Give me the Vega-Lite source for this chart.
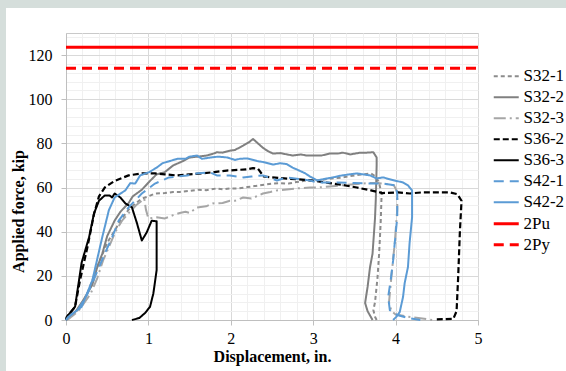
{
  "$schema": "https://vega.github.io/schema/vega-lite/v6.json",
  "padding": 0,
  "background": "white",
  "bounds": "flush",
  "spacing": 0,
  "config": {
    "font": "Liberation Serif",
    "view": {"stroke": null},
    "axis": {"labelFont": "Liberation Serif", "titleFont": "Liberation Serif", "labelColor": "black", "titleColor": "black", "labelFontSize": 16, "titleFontSize": 16, "titleFontWeight": "bold", "domainColor": "#bfbfbf", "tickColor": "#bfbfbf", "labelOverlap": false, "labelFlush": false}
  },
  "vconcat": [
    {"width": 566, "height": 8, "data": {"values": [{}]}, "mark": {"type": "point", "opacity": 0}, "view": {"fill": "#d5dedb", "stroke": null}},
    {
      "bounds": "flush",
      "spacing": 60,
      "hconcat": [
        {"width": 6, "height": 363, "data": {"values": [{}]}, "mark": {"type": "point", "opacity": 0}, "view": {"fill": "#d5dedb", "stroke": null}},
        {
          "bounds": "flush",
          "spacing": 24,
          "vconcat": [
            {"width": 1, "height": 1, "data": {"values": [{}]}, "mark": {"type": "point", "opacity": 0}, "view": {"fill": null, "stroke": null}},
            {
              "width": 412,
              "height": 287,
              "view": {"stroke": "#c9c9c9"},
              "data": {"values": [
                {"series":"S32-1","x":0,"y":0},{"series":"S32-1","x":0.05,"y":1},{"series":"S32-1","x":0.15,"y":5},{"series":"S32-1","x":0.25,"y":11},{"series":"S32-1","x":0.32,"y":18},{"series":"S32-1","x":0.4,"y":26},{"series":"S32-1","x":0.5,"y":35},{"series":"S32-1","x":0.6,"y":41},{"series":"S32-1","x":0.66,"y":45},{"series":"S32-1","x":0.76,"y":50},{"series":"S32-1","x":0.85,"y":53},{"series":"S32-1","x":0.92,"y":55},{"series":"S32-1","x":1,"y":56},{"series":"S32-1","x":1.08,"y":57.3},{"series":"S32-1","x":1.2,"y":57.5},{"series":"S32-1","x":1.3,"y":58},{"series":"S32-1","x":1.38,"y":58},{"series":"S32-1","x":1.5,"y":58.5},{"series":"S32-1","x":1.6,"y":59},{"series":"S32-1","x":1.7,"y":58.8},{"series":"S32-1","x":1.83,"y":59.6},{"series":"S32-1","x":1.9,"y":59.2},{"series":"S32-1","x":2,"y":59.6},{"series":"S32-1","x":2.1,"y":59.6},{"series":"S32-1","x":2.2,"y":60.2},{"series":"S32-1","x":2.35,"y":61},{"series":"S32-1","x":2.5,"y":61.8},{"series":"S32-1","x":2.6,"y":62},{"series":"S32-1","x":2.7,"y":61.8},{"series":"S32-1","x":2.8,"y":62.5},{"series":"S32-1","x":2.92,"y":63.2},{"series":"S32-1","x":3,"y":63},{"series":"S32-1","x":3.1,"y":63.5},{"series":"S32-1","x":3.2,"y":64},{"series":"S32-1","x":3.35,"y":64.5},{"series":"S32-1","x":3.5,"y":65.5},{"series":"S32-1","x":3.62,"y":66},{"series":"S32-1","x":3.7,"y":66.4},{"series":"S32-1","x":3.76,"y":65},{"series":"S32-1","x":3.8,"y":62},{"series":"S32-1","x":3.83,"y":57},{"series":"S32-1","x":3.82,"y":45},{"series":"S32-1","x":3.8,"y":30},{"series":"S32-1","x":3.78,"y":19},{"series":"S32-1","x":3.75,"y":8},{"series":"S32-1","x":3.73,"y":4.5},{"series":"S32-1","x":3.75,"y":1.5},{"series":"S32-1","x":3.77,"y":0},

                {"series":"S32-2","x":0,"y":0},{"series":"S32-2","x":0.03,"y":1.4},{"series":"S32-2","x":0.12,"y":4},{"series":"S32-2","x":0.21,"y":9},{"series":"S32-2","x":0.32,"y":16},{"series":"S32-2","x":0.38,"y":24},{"series":"S32-2","x":0.44,"y":30},{"series":"S32-2","x":0.5,"y":38},{"series":"S32-2","x":0.59,"y":45},{"series":"S32-2","x":0.66,"y":49},{"series":"S32-2","x":0.76,"y":53},{"series":"S32-2","x":0.81,"y":56},{"series":"S32-2","x":0.92,"y":59},{"series":"S32-2","x":1.02,"y":63},{"series":"S32-2","x":1.1,"y":66},{"series":"S32-2","x":1.2,"y":67},{"series":"S32-2","x":1.3,"y":70},{"series":"S32-2","x":1.42,"y":72},{"series":"S32-2","x":1.5,"y":73.6},{"series":"S32-2","x":1.6,"y":74},{"series":"S32-2","x":1.71,"y":74.5},{"series":"S32-2","x":1.8,"y":75.5},{"series":"S32-2","x":1.83,"y":76},{"series":"S32-2","x":1.9,"y":75.8},{"series":"S32-2","x":1.99,"y":76.7},{"series":"S32-2","x":2.05,"y":77},{"series":"S32-2","x":2.1,"y":78},{"series":"S32-2","x":2.15,"y":79},{"series":"S32-2","x":2.22,"y":80.5},{"series":"S32-2","x":2.27,"y":82},{"series":"S32-2","x":2.33,"y":80},{"series":"S32-2","x":2.39,"y":78},{"series":"S32-2","x":2.45,"y":76.5},{"series":"S32-2","x":2.51,"y":75.4},{"series":"S32-2","x":2.6,"y":75.6},{"series":"S32-2","x":2.75,"y":74.5},{"series":"S32-2","x":2.85,"y":75},{"series":"S32-2","x":2.92,"y":74.5},{"series":"S32-2","x":3,"y":74.5},{"series":"S32-2","x":3.1,"y":74.5},{"series":"S32-2","x":3.2,"y":75.4},{"series":"S32-2","x":3.3,"y":75.4},{"series":"S32-2","x":3.36,"y":75.8},{"series":"S32-2","x":3.45,"y":75},{"series":"S32-2","x":3.57,"y":75.8},{"series":"S32-2","x":3.65,"y":75.8},{"series":"S32-2","x":3.73,"y":76},{"series":"S32-2","x":3.77,"y":73.6},{"series":"S32-2","x":3.77,"y":70},{"series":"S32-2","x":3.76,"y":55},{"series":"S32-2","x":3.75,"y":46},{"series":"S32-2","x":3.72,"y":30},{"series":"S32-2","x":3.69,"y":24},{"series":"S32-2","x":3.66,"y":15},{"series":"S32-2","x":3.63,"y":7.7},{"series":"S32-2","x":3.66,"y":4},{"series":"S32-2","x":3.69,"y":2},{"series":"S32-2","x":3.72,"y":0},

                {"series":"S32-3","x":0,"y":0},{"series":"S32-3","x":0.05,"y":1},{"series":"S32-3","x":0.15,"y":4},{"series":"S32-3","x":0.3,"y":12},{"series":"S32-3","x":0.38,"y":19},{"series":"S32-3","x":0.45,"y":27},{"series":"S32-3","x":0.52,"y":33},{"series":"S32-3","x":0.6,"y":40},{"series":"S32-3","x":0.68,"y":45},{"series":"S32-3","x":0.75,"y":48},{"series":"S32-3","x":0.85,"y":52},{"series":"S32-3","x":0.92,"y":54},{"series":"S32-3","x":0.95,"y":55},{"series":"S32-3","x":0.97,"y":50},{"series":"S32-3","x":1,"y":46},{"series":"S32-3","x":1.1,"y":46.5},{"series":"S32-3","x":1.2,"y":46},{"series":"S32-3","x":1.3,"y":47.5},{"series":"S32-3","x":1.38,"y":48.5},{"series":"S32-3","x":1.45,"y":49},{"series":"S32-3","x":1.5,"y":48.5},{"series":"S32-3","x":1.59,"y":51},{"series":"S32-3","x":1.7,"y":51.5},{"series":"S32-3","x":1.78,"y":52.8},{"series":"S32-3","x":1.9,"y":53},{"series":"S32-3","x":1.99,"y":54},{"series":"S32-3","x":2.05,"y":54},{"series":"S32-3","x":2.15,"y":55.5},{"series":"S32-3","x":2.25,"y":55},{"series":"S32-3","x":2.39,"y":57.3},{"series":"S32-3","x":2.48,"y":58},{"series":"S32-3","x":2.56,"y":58.7},{"series":"S32-3","x":2.65,"y":59},{"series":"S32-3","x":2.8,"y":59.6},{"series":"S32-3","x":2.96,"y":60},{"series":"S32-3","x":3.05,"y":60},{"series":"S32-3","x":3.2,"y":60.5},{"series":"S32-3","x":3.35,"y":61},{"series":"S32-3","x":3.5,"y":61.5},{"series":"S32-3","x":3.65,"y":62},{"series":"S32-3","x":3.8,"y":62},{"series":"S32-3","x":3.9,"y":61.5},{"series":"S32-3","x":3.98,"y":61},{"series":"S32-3","x":4.02,"y":58},{"series":"S32-3","x":4.02,"y":50},{"series":"S32-3","x":3.99,"y":35},{"series":"S32-3","x":3.95,"y":20},{"series":"S32-3","x":3.92,"y":8},{"series":"S32-3","x":3.95,"y":4},{"series":"S32-3","x":4,"y":2.5},{"series":"S32-3","x":4.15,"y":1.5},{"series":"S32-3","x":4.3,"y":0.8},{"series":"S32-3","x":4.45,"y":0},

                {"series":"S36-2","x":0,"y":0},{"series":"S36-2","x":0.01,"y":1.4},{"series":"S36-2","x":0.11,"y":6},{"series":"S36-2","x":0.17,"y":18},{"series":"S36-2","x":0.26,"y":33},{"series":"S36-2","x":0.34,"y":48},{"series":"S36-2","x":0.4,"y":56},{"series":"S36-2","x":0.47,"y":60},{"series":"S36-2","x":0.59,"y":63},{"series":"S36-2","x":0.76,"y":65.5},{"series":"S36-2","x":0.92,"y":66.4},{"series":"S36-2","x":1.08,"y":66.4},{"series":"S36-2","x":1.2,"y":66},{"series":"S36-2","x":1.34,"y":65.5},{"series":"S36-2","x":1.5,"y":66},{"series":"S36-2","x":1.66,"y":66.4},{"series":"S36-2","x":1.8,"y":67},{"series":"S36-2","x":1.95,"y":67.7},{"series":"S36-2","x":2.1,"y":68},{"series":"S36-2","x":2.2,"y":68.3},{"series":"S36-2","x":2.27,"y":68.8},{"series":"S36-2","x":2.33,"y":68.5},{"series":"S36-2","x":2.4,"y":65},{"series":"S36-2","x":2.5,"y":64.6},{"series":"S36-2","x":2.7,"y":64},{"series":"S36-2","x":3,"y":63.2},{"series":"S36-2","x":3.2,"y":62},{"series":"S36-2","x":3.35,"y":61.2},{"series":"S36-2","x":3.53,"y":60},{"series":"S36-2","x":3.7,"y":58.7},{"series":"S36-2","x":3.84,"y":57.5},{"series":"S36-2","x":4.03,"y":57.8},{"series":"S36-2","x":4.17,"y":57.3},{"series":"S36-2","x":4.32,"y":57.8},{"series":"S36-2","x":4.5,"y":57.8},{"series":"S36-2","x":4.66,"y":57.8},{"series":"S36-2","x":4.75,"y":57},{"series":"S36-2","x":4.8,"y":54},{"series":"S36-2","x":4.78,"y":40},{"series":"S36-2","x":4.76,"y":20},{"series":"S36-2","x":4.74,"y":4},{"series":"S36-2","x":4.7,"y":0.5},{"series":"S36-2","x":4.5,"y":0.3},

                {"series":"S36-3","x":0,"y":0},{"series":"S36-3","x":0.01,"y":1.4},{"series":"S36-3","x":0.11,"y":6},{"series":"S36-3","x":0.19,"y":26},{"series":"S36-3","x":0.28,"y":37.5},{"series":"S36-3","x":0.34,"y":48.3},{"series":"S36-3","x":0.4,"y":54},{"series":"S36-3","x":0.47,"y":56.4},{"series":"S36-3","x":0.53,"y":56.4},{"series":"S36-3","x":0.56,"y":55.5},{"series":"S36-3","x":0.59,"y":57.3},{"series":"S36-3","x":0.62,"y":56.5},{"series":"S36-3","x":0.66,"y":55.5},{"series":"S36-3","x":0.72,"y":52.8},{"series":"S36-3","x":0.8,"y":51},{"series":"S36-3","x":0.86,"y":44},{"series":"S36-3","x":0.92,"y":36},{"series":"S36-3","x":0.98,"y":39.7},{"series":"S36-3","x":1.04,"y":45},{"series":"S36-3","x":1.1,"y":44.7},{"series":"S36-3","x":1.1,"y":22.6},{"series":"S36-3","x":1.06,"y":12},{"series":"S36-3","x":1.02,"y":6},{"series":"S36-3","x":0.96,"y":3.2},{"series":"S36-3","x":0.89,"y":0.9},{"series":"S36-3","x":0.8,"y":0},

                {"series":"S42-1","x":0,"y":0},{"series":"S42-1","x":0.03,"y":1.4},{"series":"S42-1","x":0.15,"y":5},{"series":"S42-1","x":0.25,"y":11},{"series":"S42-1","x":0.35,"y":19.4},{"series":"S42-1","x":0.47,"y":30},{"series":"S42-1","x":0.56,"y":37.5},{"series":"S42-1","x":0.64,"y":45},{"series":"S42-1","x":0.76,"y":51},{"series":"S42-1","x":0.92,"y":57.3},{"series":"S42-1","x":1.08,"y":61.8},{"series":"S42-1","x":1.25,"y":64.6},{"series":"S42-1","x":1.47,"y":65.5},{"series":"S42-1","x":1.6,"y":66.5},{"series":"S42-1","x":1.75,"y":66.8},{"series":"S42-1","x":1.83,"y":65.5},{"series":"S42-1","x":1.99,"y":65.5},{"series":"S42-1","x":2.15,"y":64.6},{"series":"S42-1","x":2.25,"y":65},{"series":"S42-1","x":2.39,"y":65.5},{"series":"S42-1","x":2.56,"y":63.2},{"series":"S42-1","x":2.68,"y":64.6},{"series":"S42-1","x":2.8,"y":64},{"series":"S42-1","x":2.96,"y":63.2},{"series":"S42-1","x":3.05,"y":62.3},{"series":"S42-1","x":3.3,"y":62.3},{"series":"S42-1","x":3.5,"y":62},{"series":"S42-1","x":3.73,"y":61.8},{"series":"S42-1","x":3.85,"y":61.8},{"series":"S42-1","x":4,"y":61},{"series":"S42-1","x":4.02,"y":57},{"series":"S42-1","x":4.02,"y":46.5},{"series":"S42-1","x":3.99,"y":35},{"series":"S42-1","x":3.97,"y":27},{"series":"S42-1","x":3.94,"y":18},{"series":"S42-1","x":3.91,"y":10.4},{"series":"S42-1","x":3.93,"y":4.5},{"series":"S42-1","x":4.02,"y":2.3},{"series":"S42-1","x":4.15,"y":0.9},{"series":"S42-1","x":4.3,"y":0},

                {"series":"S42-2","x":0,"y":0},{"series":"S42-2","x":0.03,"y":1.4},{"series":"S42-2","x":0.19,"y":6},{"series":"S42-2","x":0.32,"y":18},{"series":"S42-2","x":0.44,"y":37.5},{"series":"S42-2","x":0.52,"y":49.7},{"series":"S42-2","x":0.59,"y":55.5},{"series":"S42-2","x":0.65,"y":57},{"series":"S42-2","x":0.72,"y":58.7},{"series":"S42-2","x":0.78,"y":62},{"series":"S42-2","x":0.84,"y":61.8},{"series":"S42-2","x":0.9,"y":65.5},{"series":"S42-2","x":1.01,"y":67},{"series":"S42-2","x":1.1,"y":69},{"series":"S42-2","x":1.17,"y":71},{"series":"S42-2","x":1.26,"y":72},{"series":"S42-2","x":1.35,"y":73},{"series":"S42-2","x":1.45,"y":73},{"series":"S42-2","x":1.5,"y":74},{"series":"S42-2","x":1.59,"y":74.5},{"series":"S42-2","x":1.65,"y":73},{"series":"S42-2","x":1.75,"y":73.6},{"series":"S42-2","x":1.85,"y":74},{"series":"S42-2","x":1.96,"y":73.6},{"series":"S42-2","x":2.05,"y":72.5},{"series":"S42-2","x":2.11,"y":73},{"series":"S42-2","x":2.2,"y":73.2},{"series":"S42-2","x":2.32,"y":72},{"series":"S42-2","x":2.4,"y":71.5},{"series":"S42-2","x":2.51,"y":70.4},{"series":"S42-2","x":2.6,"y":71},{"series":"S42-2","x":2.68,"y":70.6},{"series":"S42-2","x":2.75,"y":69},{"series":"S42-2","x":2.8,"y":68.2},{"series":"S42-2","x":2.9,"y":66.5},{"series":"S42-2","x":2.96,"y":65},{"series":"S42-2","x":3.05,"y":63.2},{"series":"S42-2","x":3.15,"y":64},{"series":"S42-2","x":3.24,"y":64.6},{"series":"S42-2","x":3.35,"y":65.5},{"series":"S42-2","x":3.45,"y":66},{"series":"S42-2","x":3.53,"y":66.4},{"series":"S42-2","x":3.6,"y":66},{"series":"S42-2","x":3.69,"y":65.5},{"series":"S42-2","x":3.77,"y":64.1},{"series":"S42-2","x":3.85,"y":64.6},{"series":"S42-2","x":3.95,"y":63.5},{"series":"S42-2","x":4.09,"y":62.3},{"series":"S42-2","x":4.15,"y":61},{"series":"S42-2","x":4.2,"y":58.7},{"series":"S42-2","x":4.2,"y":46.5},{"series":"S42-2","x":4.17,"y":35},{"series":"S42-2","x":4.15,"y":24},{"series":"S42-2","x":4.11,"y":16.7},{"series":"S42-2","x":4.09,"y":10.4},{"series":"S42-2","x":4.05,"y":3.6},{"series":"S42-2","x":4.01,"y":1.5},{"series":"S42-2","x":3.97,"y":0},

                {"series":"2Pu","x":0,"y":123.5},{"series":"2Pu","x":5,"y":123.5},
                {"series":"2Py","x":0,"y":114},{"series":"2Py","x":5,"y":114}
              ]},
              "mark": {"type": "line", "strokeJoin": "round"},
              "encoding": {
                "x": {"field": "x", "type": "quantitative", "scale": {"domain": [0, 5], "nice": false, "zero": false},
                  "axis": {"title": "Displacement, in.", "values": [0,0.2,0.4,0.6,0.8,1,1.2,1.4,1.6,1.8,2,2.2,2.4,2.6,2.8,3,3.2,3.4,3.6,3.8,4,4.2,4.4,4.6,4.8,5],
                    "labelExpr": "datum.value % 1 === 0 ? format(datum.value, 'd') : ''",
                    "gridColor": {"condition": {"test": "datum.value % 1 === 0", "value": "#d9d9d9"}, "value": "#f0f0f0"},
                    "tickOpacity": {"condition": {"test": "datum.value % 1 === 0", "value": 1}, "value": 0},
                    "tickSize": 5, "labelPadding": 5, "titlePadding": 2}},
                "y": {"field": "y", "type": "quantitative", "scale": {"domain": [0, 130], "nice": false},
                  "axis": {"title": "Applied force, kip", "values": [0,4,8,12,16,20,24,28,32,36,40,44,48,52,56,60,64,68,72,76,80,84,88,92,96,100,104,108,112,116,120,124,128],
                    "labelExpr": "datum.value % 20 === 0 ? format(datum.value, 'd') : ''",
                    "gridColor": {"condition": {"test": "datum.value % 20 === 0", "value": "#d9d9d9"}, "value": "#f0f0f0"},
                    "tickOpacity": {"condition": {"test": "datum.value % 20 === 0", "value": 1}, "value": 0},
                    "tickSize": 5, "labelPadding": 9, "titlePadding": 2, "titleY": 178}},
                "color": {"field": "series", "type": "nominal",
                  "scale": {"domain": ["S32-1","S32-2","S32-3","S36-2","S36-3","S42-1","S42-2","2Pu","2Py"],
                            "range": ["#8c8c8c","#808080","#a6a6a6","#000000","#000000","#5b9bd5","#5b9bd5","#ff0000","#ff0000"]},
                  "legend": {"title": null, "orient": "none", "legendX": 493.25, "legendY": 63.75, "symbolType": "M-1.111,0L1.111,0", "symbolSize": 506, "labelFont": "Liberation Serif", "labelFontSize": 17, "labelColor": "black", "labelOffset": 4.25, "rowPadding": 0, "padding": 0}},
                "strokeDash": {"field": "series", "type": "nominal",
                  "scale": {"domain": ["S32-1","S32-2","S32-3","S36-2","S36-3","S42-1","S42-2","2Pu","2Py"],
                            "range": [[4,3],[1,0],[12,4,2,4],[6,3],[1,0],[10,6],[1,0],[1,0],[10,6]]}},
                "strokeWidth": {"field": "series", "type": "nominal",
                  "scale": {"type": "ordinal", "domain": ["S32-1","S32-2","S32-3","S36-2","S36-3","S42-1","S42-2","2Pu","2Py"],
                            "range": [2,2,2,2.2,2,2,2,3,3]}},
                "order": {"value": null}
              }
            }
          ]
        }
      ]
    }
  ]
}
